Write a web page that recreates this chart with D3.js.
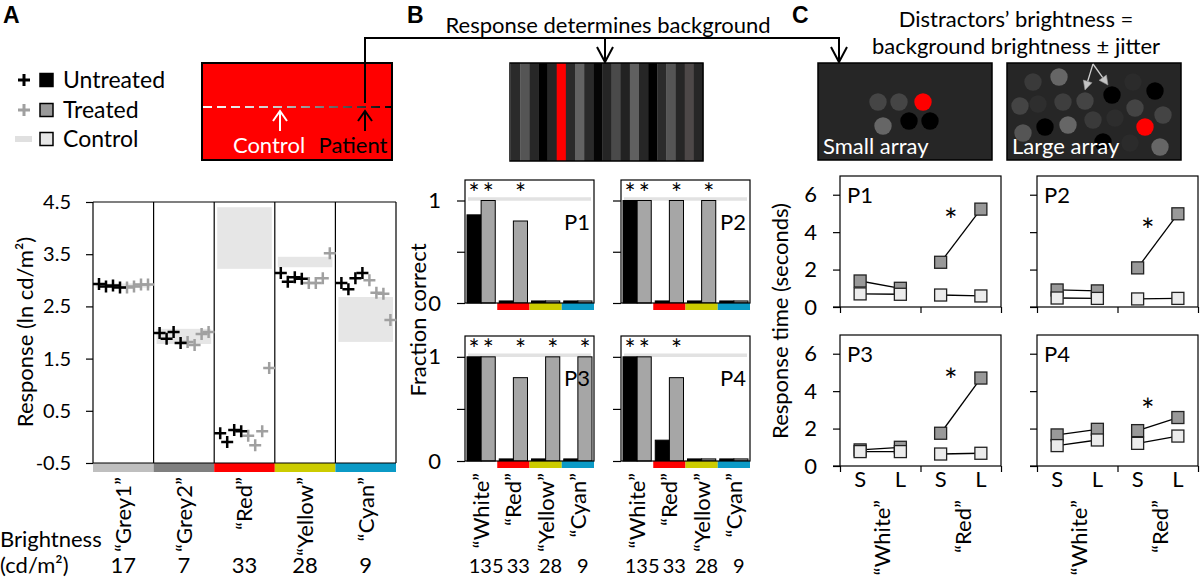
<!DOCTYPE html>
<html><head><meta charset="utf-8">
<script src="https://cdn.jsdelivr.net/npm/d3@7"></script>
<style>body{margin:0;background:#fff}</style>
</head><body><svg id="c" width="1200" height="581" xmlns="http://www.w3.org/2000/svg"></svg>
<script>
// ================= DATA =================
// Panel A
const catsA = ["Grey1","Grey2","Red","Yellow","Cyan"];
const brightnessA = [17,7,33,28,9];
const colorsA = ["#bfbfbf","#7f7f7f","#ff0000","#cccc00","#0b9ac6"];
const ticksA = [-0.5,0.5,1.5,2.5,3.5,4.5];
const untreatedA = [[2.93,2.88,2.9,2.86],[1.99,1.88,2.01,1.8],[0.07,-0.1,0.13,0.11],[3.14,2.97,3.06,3.03],[2.95,2.83,3.04,3.14]];
const treatedA   = [[2.86,2.88,2.92,2.92],[1.82,1.76,1.97,2.01],[0.02,-0.16,0.11,1.32],[2.95,2.95,3.04,3.52],[3.0,2.76,2.74,2.24]];
const controlLowA  = [2.86,1.78,3.22,3.25,1.82];
const controlHighA = [2.94,2.07,4.40,3.45,2.68];

// Panel B
const catsB = ["White","Red","Yellow","Cyan"];
const brightnessB = [135,33,28,9];
const colorsB = [null,"#ff0000","#cccc00","#0b9ac6"];
const patientsB = ["P1","P2","P3","P4"];
const ticksB = [0,0.5,1];
const untreatedB = [[0.86,0.02,0.02,0.02],[1,0.02,0.02,0.02],[1,0.02,0.02,0.02],[1,0.2,0.02,0.02]];
const treatedB   = [[1,0.8,0.02,0.02],[1,1,1,0.02],[1,0.8,1,1],[1,0.8,0.02,0.02]];
const sigUntreatedB = [[1,0,0,0],[1,0,0,0],[1,0,0,0],[1,0,0,0]];
const sigTreatedB   = [[1,1,0,0],[1,1,1,0],[1,1,1,1],[1,1,0,0]];
const controlB = [1,1,1,1];

// Panel C
const groupsC = ["White","Red"];
const condsC = ["S","L"];
const patientsC = ["P1","P2","P3","P4"];
const ticksC = [0,2,4,6];
const treatedC = [[[1.39,1.0],[2.39,5.23]],[[0.91,0.86],[2.09,4.98]],[[0.86,1.0],[1.75,4.7]],[[1.66,1.96],[1.89,2.59]]];
const controlC = [[[0.7,0.68],[0.64,0.59]],[[0.48,0.46],[0.43,0.46]],[[0.77,0.77],[0.64,0.68]],[[1.09,1.39],[1.21,1.6]]];
const sigC = [4.9,4.4,4.87,3.27];

// ================= DRAW =================
const F = "Lato, 'Open Sans', sans-serif";
const svg = d3.select("#c");
svg.append("rect").attr("width",1200).attr("height",581).attr("fill","#fff");
function txt(g,x,y,s,size,anchor,fill){
  return g.append("text").attr("x",x).attr("y",y).text(s).attr("font-family",F)
    .attr("font-size",size).attr("text-anchor",anchor||"start").attr("fill",fill||"#000");
}
function styleAxis(ax,size){
  ax.select(".domain").remove();
  ax.selectAll("line").attr("stroke","#000").attr("stroke-width",1.2);
  ax.selectAll("text").attr("font-family",F).attr("font-size",size).attr("fill","#000");
}
// panel letters
[["A",3],["B",407],["C",792]].forEach(([l,x])=>{
  svg.append("text").attr("x",x).attr("y",23).text(l).attr("font-family","'Liberation Sans', Arial, sans-serif")
    .attr("font-weight","bold").attr("font-size",23);
});

// ---------- Panel A legend ----------
const leg = svg.append("g");
const legRows = [{label:"Untreated",plus:"#000",sq:"#000",y:80},{label:"Treated",plus:"#a0a0a0",sq:"#999",y:110},{label:"Control",plus:null,sq:"#e6e6e6",y:139}];
legRows.forEach(r=>{
  if(r.plus) leg.append("path").attr("d",`M${18},${r.y}H${30}M${24},${r.y-6}V${r.y+6}`).attr("stroke",r.plus).attr("stroke-width",3);
  else leg.append("line").attr("x1",15).attr("x2",32).attr("y1",r.y).attr("y2",r.y).attr("stroke","#e0e0e0").attr("stroke-width",6);
  leg.append("rect").attr("x",40).attr("y",r.y-6.5).attr("width",13).attr("height",13).attr("fill",r.sq).attr("stroke","#000").attr("stroke-width",1.5);
  txt(leg,63,r.y,r.label,23).attr("dy","0.36em");
});

// ---------- Panel A schematic ----------
const defs = svg.append("defs");
const gr = defs.append("linearGradient").attr("id","dg").attr("gradientUnits","userSpaceOnUse").attr("x1",202).attr("x2",392).attr("y1",0).attr("y2",0);
[[0,"#ffffff"],[0.4,"#c8c8c8"],[0.7,"#666"],[1,"#000"]].forEach(([o,c])=>gr.append("stop").attr("offset",o).attr("stop-color",c));
svg.append("rect").attr("x",202).attr("y",63).attr("width",190).attr("height",97).attr("fill","#ff0000").attr("stroke","#000").attr("stroke-width",2);
svg.append("path").attr("d","M203,107H391").attr("stroke","url(#dg)").attr("stroke-width",2).attr("stroke-dasharray","9,5");
function upArrow(x,y,col){
  svg.append("path").attr("d",`M${x},${y}V${y+20}M${x-7},${y+10}L${x},${y}L${x+7},${y+10}`).attr("fill","none").attr("stroke",col).attr("stroke-width",2);
}
upArrow(280,111,"#fff"); upArrow(365,111,"#000");
txt(svg,269,153,"Control",22,"middle","#fff");
txt(svg,353,153,"Patient",22,"middle","#000");
// connector
svg.append("path").attr("d","M365,103V38H839V62M605,38V62").attr("fill","none").attr("stroke","#000").attr("stroke-width",2);
[605,839].forEach(x=>svg.append("path").attr("d",`M${x-8},${47}L${x},${62}L${x+8},${47}`).attr("fill","none").attr("stroke","#000").attr("stroke-width",2));

// ---------- Panel A chart ----------
const gA = svg.append("g");
const yA = d3.scaleLinear().domain([-0.5,4.5]).range([463,202]);
const xA = d3.scaleBand().domain(catsA).range([93,396]);
const xp = d3.scalePoint().domain(d3.range(8)).range([6,55]);
catsA.forEach((c,i)=>{
  gA.append("rect").attr("x",xA(c)+3).attr("width",xA.bandwidth()-6)
    .attr("y",yA(controlHighA[i])).attr("height",yA(controlLowA[i])-yA(controlHighA[i])).attr("fill","#e6e6e6");
});
catsA.forEach((c,i)=>{
  gA.append("line").attr("x1",xA(c)).attr("x2",xA(c)).attr("y1",202).attr("y2",463).attr("stroke","#000").attr("stroke-width",1.2);
  gA.append("rect").attr("x",xA(c)).attr("y",463).attr("width",xA.bandwidth()).attr("height",9).attr("fill",colorsA[i]);
});
gA.append("line").attr("x1",396).attr("x2",396).attr("y1",202).attr("y2",463).attr("stroke","#000").attr("stroke-width",1.2);
gA.append("line").attr("x1",93).attr("x2",396).attr("y1",202).attr("y2",202).attr("stroke","#000").attr("stroke-width",1.2);
gA.append("line").attr("x1",93).attr("x2",396).attr("y1",463).attr("y2",463).attr("stroke","#000").attr("stroke-width",1.2);
const plusPath = "M-6,0H6M0,-6V6";
catsA.forEach((c,i)=>{
  treatedA[i].forEach((v,j)=>gA.append("path").attr("d",plusPath).attr("transform",`translate(${xA(c)+xp(j+4)},${yA(v)})`).attr("stroke","#a0a0a0").attr("stroke-width",2.5));
  untreatedA[i].forEach((v,j)=>gA.append("path").attr("d",plusPath).attr("transform",`translate(${xA(c)+xp(j)},${yA(v)})`).attr("stroke","#000").attr("stroke-width",2.5));
});
const axA = gA.append("g").attr("transform","translate(93,0)").call(d3.axisLeft(yA).tickValues(ticksA).tickSize(7).tickPadding(15).tickFormat(d=>d.toFixed(1)));
styleAxis(axA,20);
txt(gA,0,0,"Response (ln cd/m²)",22,"middle").attr("transform","translate(25,332) rotate(-90)").attr("dy","0.35em");
catsA.forEach((c,i)=>{
  const cx = xA(c)+xA.bandwidth()/2;
  txt(gA,0,0,"\u201C"+c+"\u201D",22,"end").attr("transform",`translate(${cx},477) rotate(-90)`).attr("dy","0.36em");
  txt(gA,cx,573,String(brightnessA[i]),22,"middle");
});
txt(gA,0,547,"Brightness",22);
txt(gA,0,573,"(cd/m²)",22);

// ---------- Panel B stimulus ----------
txt(svg,608,33,"Response determines background",22,"middle");
const stripes = ["#2a2a2a","#555555","#272727","#000000","#262626","#ff0000","#2b2b2b","#636363","#2a2a2a","#050505","#252525","#4a4a4a","#222222","#606060","#262626","#000000","#2b2b2b","#555555","#262626","#4d4848","#262626"];
const sx = d3.scaleBand().domain(d3.range(stripes.length)).range([511,703]);
stripes.forEach((c,i)=>svg.append("rect").attr("x",sx(i)).attr("y",63).attr("width",sx.bandwidth()+0.3).attr("height",98).attr("fill",c));
svg.append("rect").attr("x",510).attr("y",63).attr("width",193).attr("height",98).attr("fill","none").attr("stroke","#000").attr("stroke-width",1.5);

// ---------- Panel B charts ----------
const posB = [[465,180,303],[621,180,303],[465,336,461],[621,336,461]];
patientsB.forEach((p,pi)=>{
  const [left,top,zero] = posB[pi]; const w = 129;
  const g = svg.append("g");
  const y = d3.scaleLinear().domain([0,1.2]).range([zero,top]);
  const x = d3.scaleBand().domain(catsB).range([left,left+w]);
  const xs = d3.scaleBand().domain(["u","t"]).range([2,x.bandwidth()-2]);
  g.append("line").attr("x1",left+3).attr("x2",left+w-3).attr("y1",y(controlB[pi])-1.5).attr("y2",y(controlB[pi])-1.5).attr("stroke","#e2e2e2").attr("stroke-width",3.5);
  catsB.forEach((c,ci)=>{
    [["u",untreatedB,"#000",sigUntreatedB],["t",treatedB,"#a6a6a6",sigTreatedB]].forEach(([k,arr,fill,sig])=>{
      const v = arr[pi][ci];
      g.append("rect").attr("x",x(c)+xs(k)).attr("width",xs.bandwidth()).attr("y",y(v)).attr("height",zero-y(v))
        .attr("fill",fill).attr("stroke","#000").attr("stroke-width",1);
      if(sig[pi][ci]) txt(g,x(c)+xs(k)+xs.bandwidth()/2,top+23,"*",26,"middle");
    });
    if(colorsB[ci]) g.append("rect").attr("x",x(c)).attr("y",zero).attr("width",x.bandwidth()).attr("height",7).attr("fill",colorsB[ci]);
  });
  g.append("rect").attr("x",left).attr("y",top).attr("width",w).attr("height",zero-top).attr("fill","none").attr("stroke","#000").attr("stroke-width",1.2);
  const ax = g.append("g").attr("transform",`translate(${left},0)`).call(d3.axisLeft(y).tickValues(ticksB).tickSize(8).tickPadding(16)
     .tickFormat(d=> (pi%2===0 && d!==0.5) ? String(d) : ""));
  styleAxis(ax,22);
  txt(g,left+w-4,top+50,p,22,"end");
  if(pi>=2){
    catsB.forEach((c,ci)=>{
      const cx = x(c)+x.bandwidth()/2;
      txt(g,0,0,"\u201C"+c+"\u201D",22,"end").attr("transform",`translate(${cx},473) rotate(-90)`).attr("dy","0.36em");
      txt(g,cx+5,573,String(brightnessB[ci]),20,"middle");
    });
  }
});
txt(svg,0,0,"Fraction correct",22,"middle").attr("transform","translate(418,320) rotate(-90)").attr("dy","0.35em");

// ---------- Panel C stimuli ----------
txt(svg,1016,27,"Distractors\u2019 brightness =",22,"middle");
txt(svg,1016,54,"background brightness \u00B1 jitter",22,"middle");
const smallArray = [[60,39,"#454545"],[81,39,"#454545"],[105,39,"#ff0000"],[65,63,"#666"],[91,58,"#000"],[112,58,"#000"]];
const largeArray = [[26,19,"#3a3a3a"],[52,14,"#666"],[13,43,"#444"],[31,41,"#2e2e2e"],[56,39,"#3e3e3e"],[78,38,"#444"],[105,32,"#000"],[126,19,"#2b2b2b"],[148,28,"#000"],[128,45,"#444"],[156,52,"#444"],[86,57,"#3a3a3a"],[108,55,"#2d2d2d"],[16,70,"#555"],[38,64,"#000"],[61,62,"#666"],[138,64,"#ff0000"],[96,79,"#000"],[153,84,"#666"],[123,80,"#2b2b2b"]];
[[818,smallArray,"Small array"],[1007,largeArray,"Large array"]].forEach(([bx,arr,label])=>{
  const g = svg.append("g").attr("transform",`translate(${bx},63)`);
  g.append("rect").attr("width",174).attr("height",97).attr("fill","#262626").attr("stroke","#000").attr("stroke-width",1.5);
  arr.forEach(([cx,cy,c])=>g.append("circle").attr("cx",cx).attr("cy",cy).attr("r",8.7).attr("fill",c));
  txt(g,5,91,label,22,"start","#fff");
});
// grey pointer arrows in large array
[[1085,90],[1108,85]].forEach(([tx,ty])=>{
  const sx0=1093, sy0=64;
  const ang = Math.atan2(ty-sy0,tx-sx0);
  const L=9, hw=4.5;
  const bx = tx-L*Math.cos(ang), by = ty-L*Math.sin(ang);
  svg.append("line").attr("x1",sx0).attr("y1",sy0).attr("x2",bx).attr("y2",by).attr("stroke","#cfcfcf").attr("stroke-width",1.3);
  svg.append("path").attr("d",`M${tx},${ty}L${bx-hw*Math.sin(ang)},${by+hw*Math.cos(ang)}L${bx+hw*Math.sin(ang)},${by-hw*Math.cos(ang)}Z`)
    .attr("fill","#c4c4c4").attr("stroke","#999").attr("stroke-width",0.6);
});

// ---------- Panel C charts ----------
const posC = [[840,176,307],[1037,176,307],[840,335,466],[1037,335,466]];
patientsC.forEach((p,pi)=>{
  const [left,top,zero] = posC[pi]; const w = 161;
  const g = svg.append("g");
  const y = d3.scaleLinear().domain([0,7]).range([zero,top]);
  const xg = d3.scaleBand().domain(groupsC).range([left,left+w]);
  const xc = d3.scalePoint().domain(condsC).range([xg.bandwidth()*0.25,xg.bandwidth()*0.75]);
  g.append("rect").attr("x",left).attr("y",top).attr("width",w).attr("height",zero-top).attr("fill","none").attr("stroke","#000").attr("stroke-width",1.2);
  g.append("line").attr("x1",left-7).attr("x2",left).attr("y1",zero).attr("y2",zero).attr("stroke","#000").attr("stroke-width",1.2);
  const ay = g.append("g").attr("transform",`translate(${left},0)`).call(d3.axisLeft(y).tickValues(ticksC).tickSize(7).tickPadding(16).tickFormat(d=>pi%2===0?String(d):""));
  styleAxis(ay,22);
  const xb = d3.scaleLinear().domain([0,groupsC.length]).range([left,left+w]);
  const ax = g.append("g").attr("transform",`translate(0,${zero})`).call(d3.axisBottom(xb).tickValues(d3.range(groupsC.length+1)).tickSize(6).tickFormat(""));
  styleAxis(ax,20);
  const line = d3.line().x(d=>d[0]).y(d=>d[1]);
  groupsC.forEach((gname,gi)=>{
    [treatedC,controlC].forEach(arr=>{
      const pts = condsC.map((c,ci)=>[xg(gname)+xc(c), y(arr[pi][gi][ci])]);
      g.append("path").attr("d",line(pts)).attr("fill","none").attr("stroke","#000").attr("stroke-width",1.3);
    });
  });
  groupsC.forEach((gname,gi)=>{
    [[treatedC,"#999"],[controlC,"#ececec"]].forEach(([arr,fill])=>{
      condsC.forEach((c,ci)=>{
        g.append("rect").attr("x",xg(gname)+xc(c)-6).attr("y",y(arr[pi][gi][ci])-6).attr("width",12).attr("height",12)
          .attr("fill",fill).attr("stroke","#222").attr("stroke-width",1.3);
      });
    });
  });
  txt(g,xg("Red")+xg.bandwidth()/2-10,y(sigC[pi])+17,"*",32,"middle");
  txt(g,left+7,top+27,p,22,"start");
  if(pi>=2){
    groupsC.forEach(gname=>{
      condsC.forEach(c=>txt(g,xg(gname)+xc(c),487,c,22,"middle"));
      const cx = xg(gname)+xg.bandwidth()/2;
      txt(g,0,0,"\u201C"+gname+"\u201D",22,"end").attr("transform",`translate(${cx+2},500) rotate(-90)`).attr("dy","0.36em");
    });
  }
});
txt(svg,0,0,"Response time (seconds)",22,"middle").attr("transform","translate(780,321) rotate(-90)").attr("dy","0.35em");
</script></body></html>
